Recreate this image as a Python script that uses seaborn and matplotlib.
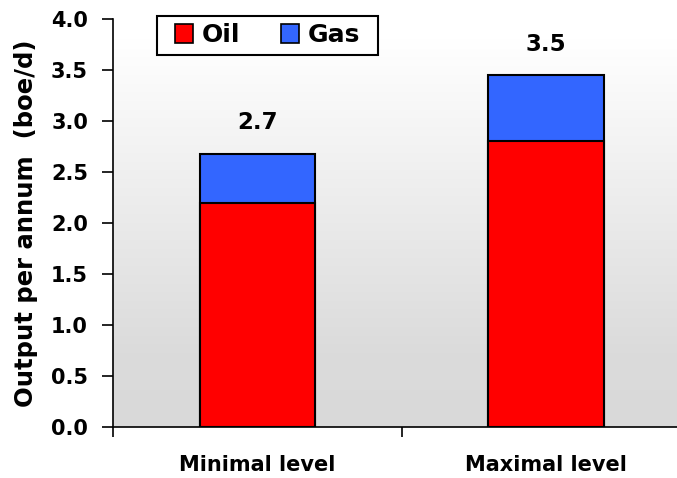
import numpy as np
import pandas as pd
import matplotlib
matplotlib.use("Agg")
import matplotlib.pyplot as plt
from matplotlib.patches import Patch, Rectangle
import seaborn as sns

# Output per annum by scenario (boe/d)
levels = ["Minimal level", "Maximal level"]
oil = [2.2, 2.8]
gas = [0.48, 0.65]
series_names = ["Oil", "Gas"]
ytick_values = [0.0, 0.5, 1.0, 1.5, 2.0, 2.5, 3.0, 3.5, 4.0]

OIL_COLOR = "#ff0000"
GAS_COLOR = "#3366ff"

sns.set_theme(style="white")
plt.rcParams["font.family"] = ["DejaVu Sans"]
plt.rcParams["font.weight"] = "bold"
for key in ["text.color", "axes.labelcolor", "xtick.color", "ytick.color"]:
    plt.rcParams[key] = "black"

df = pd.DataFrame({"level": levels, "oil": oil, "gas": gas})
df["total"] = df["oil"] + df["gas"]

W, H = 677, 478
fig = plt.figure(figsize=(W / 100, H / 100), dpi=100)
ax = fig.add_axes([113 / W, 51 / H, 0.853, 408 / H])

# vertical gradient backdrop: white near the top fading to light grey
cmap = matplotlib.colors.LinearSegmentedColormap.from_list(
    "bg", [(0.0, "#ffffff"), (0.05, "#ffffff"), (0.82, "#dbdbdb"), (1.0, "#d9d9d9")])
grad = np.linspace(0.0, 1.0, 256).reshape(-1, 1)
ax.imshow(grad, cmap=cmap, aspect="auto", extent=[0, 1, 0, 1],
          transform=ax.transAxes, zorder=0, origin="upper", vmin=0, vmax=1)

# stacked bars: full total in gas colour, oil drawn over the lower part
sns.barplot(data=df, x="level", y="total", color=GAS_COLOR, saturation=1,
            width=0.4, edgecolor="black", linewidth=1.5, ax=ax, zorder=2)
sns.barplot(data=df, x="level", y="oil", color=OIL_COLOR, saturation=1,
            width=0.4, edgecolor="black", linewidth=1.5, ax=ax, zorder=3)

# total labels above bars
for i, total in enumerate(df["total"]):
    ax.annotate(f"{round(total + 1e-9, 1):.1f}", xy=(i, total), xytext=(0, 14),
                textcoords="offset points", ha="center", va="bottom",
                fontsize=16.5, fontweight="bold", color="black")

ax.set_xlim(-0.5, 1.5)
ax.set_ylim(0, 4.0)
ax.set_yticks(ytick_values)
ax.set_yticklabels([f"{v:.1f}" for v in ytick_values], fontsize=15, fontweight="bold")

# category separators as major ticks, names as minor tick labels
ax.set_xticks([-0.5, 0.5, 1.5])
ax.set_xticklabels([])
ax.set_xticks([0, 1], minor=True)
ax.set_xticklabels(levels, minor=True, fontsize=15, fontweight="bold")
ax.tick_params(axis="x", which="major", direction="out", length=7, width=1.2,
               color="black", bottom=True)
ax.tick_params(axis="x", which="minor", length=0, pad=20)
ax.tick_params(axis="y", direction="out", length=8, width=1.2, color="black",
               left=True, pad=10)

ax.set_xlabel("")
ax.set_ylabel("Output per annum  (boe/d)", fontsize=17.5, fontweight="bold", labelpad=9)

for side in ["top", "right"]:
    ax.spines[side].set_visible(False)
for side in ["left", "bottom"]:
    ax.spines[side].set_visible(True)
    ax.spines[side].set_color("black")
    ax.spines[side].set_linewidth(1.2)

# legend box with its own frame
fig.patches.append(Rectangle((157 / W, 1 - 55 / H), 221 / W, 39 / H,
                             transform=fig.transFigure, facecolor="white",
                             edgecolor="black", linewidth=1.5, zorder=5))
handles = [Patch(facecolor=OIL_COLOR, edgecolor="black", linewidth=1.2),
           Patch(facecolor=GAS_COLOR, edgecolor="black", linewidth=1.2)]
leg = fig.legend(handles, series_names, loc="center",
                 bbox_to_anchor=(267.5 / W, 1 - 35.5 / H), ncol=2,
                 frameon=False, handlelength=0.7, handleheight=0.78,
                 handletextpad=0.36, columnspacing=1.64, borderpad=0,
                 borderaxespad=0, prop={"size": 18, "weight": "bold"})
leg.set_zorder(6)

fig.savefig("out.png", dpi=100)
